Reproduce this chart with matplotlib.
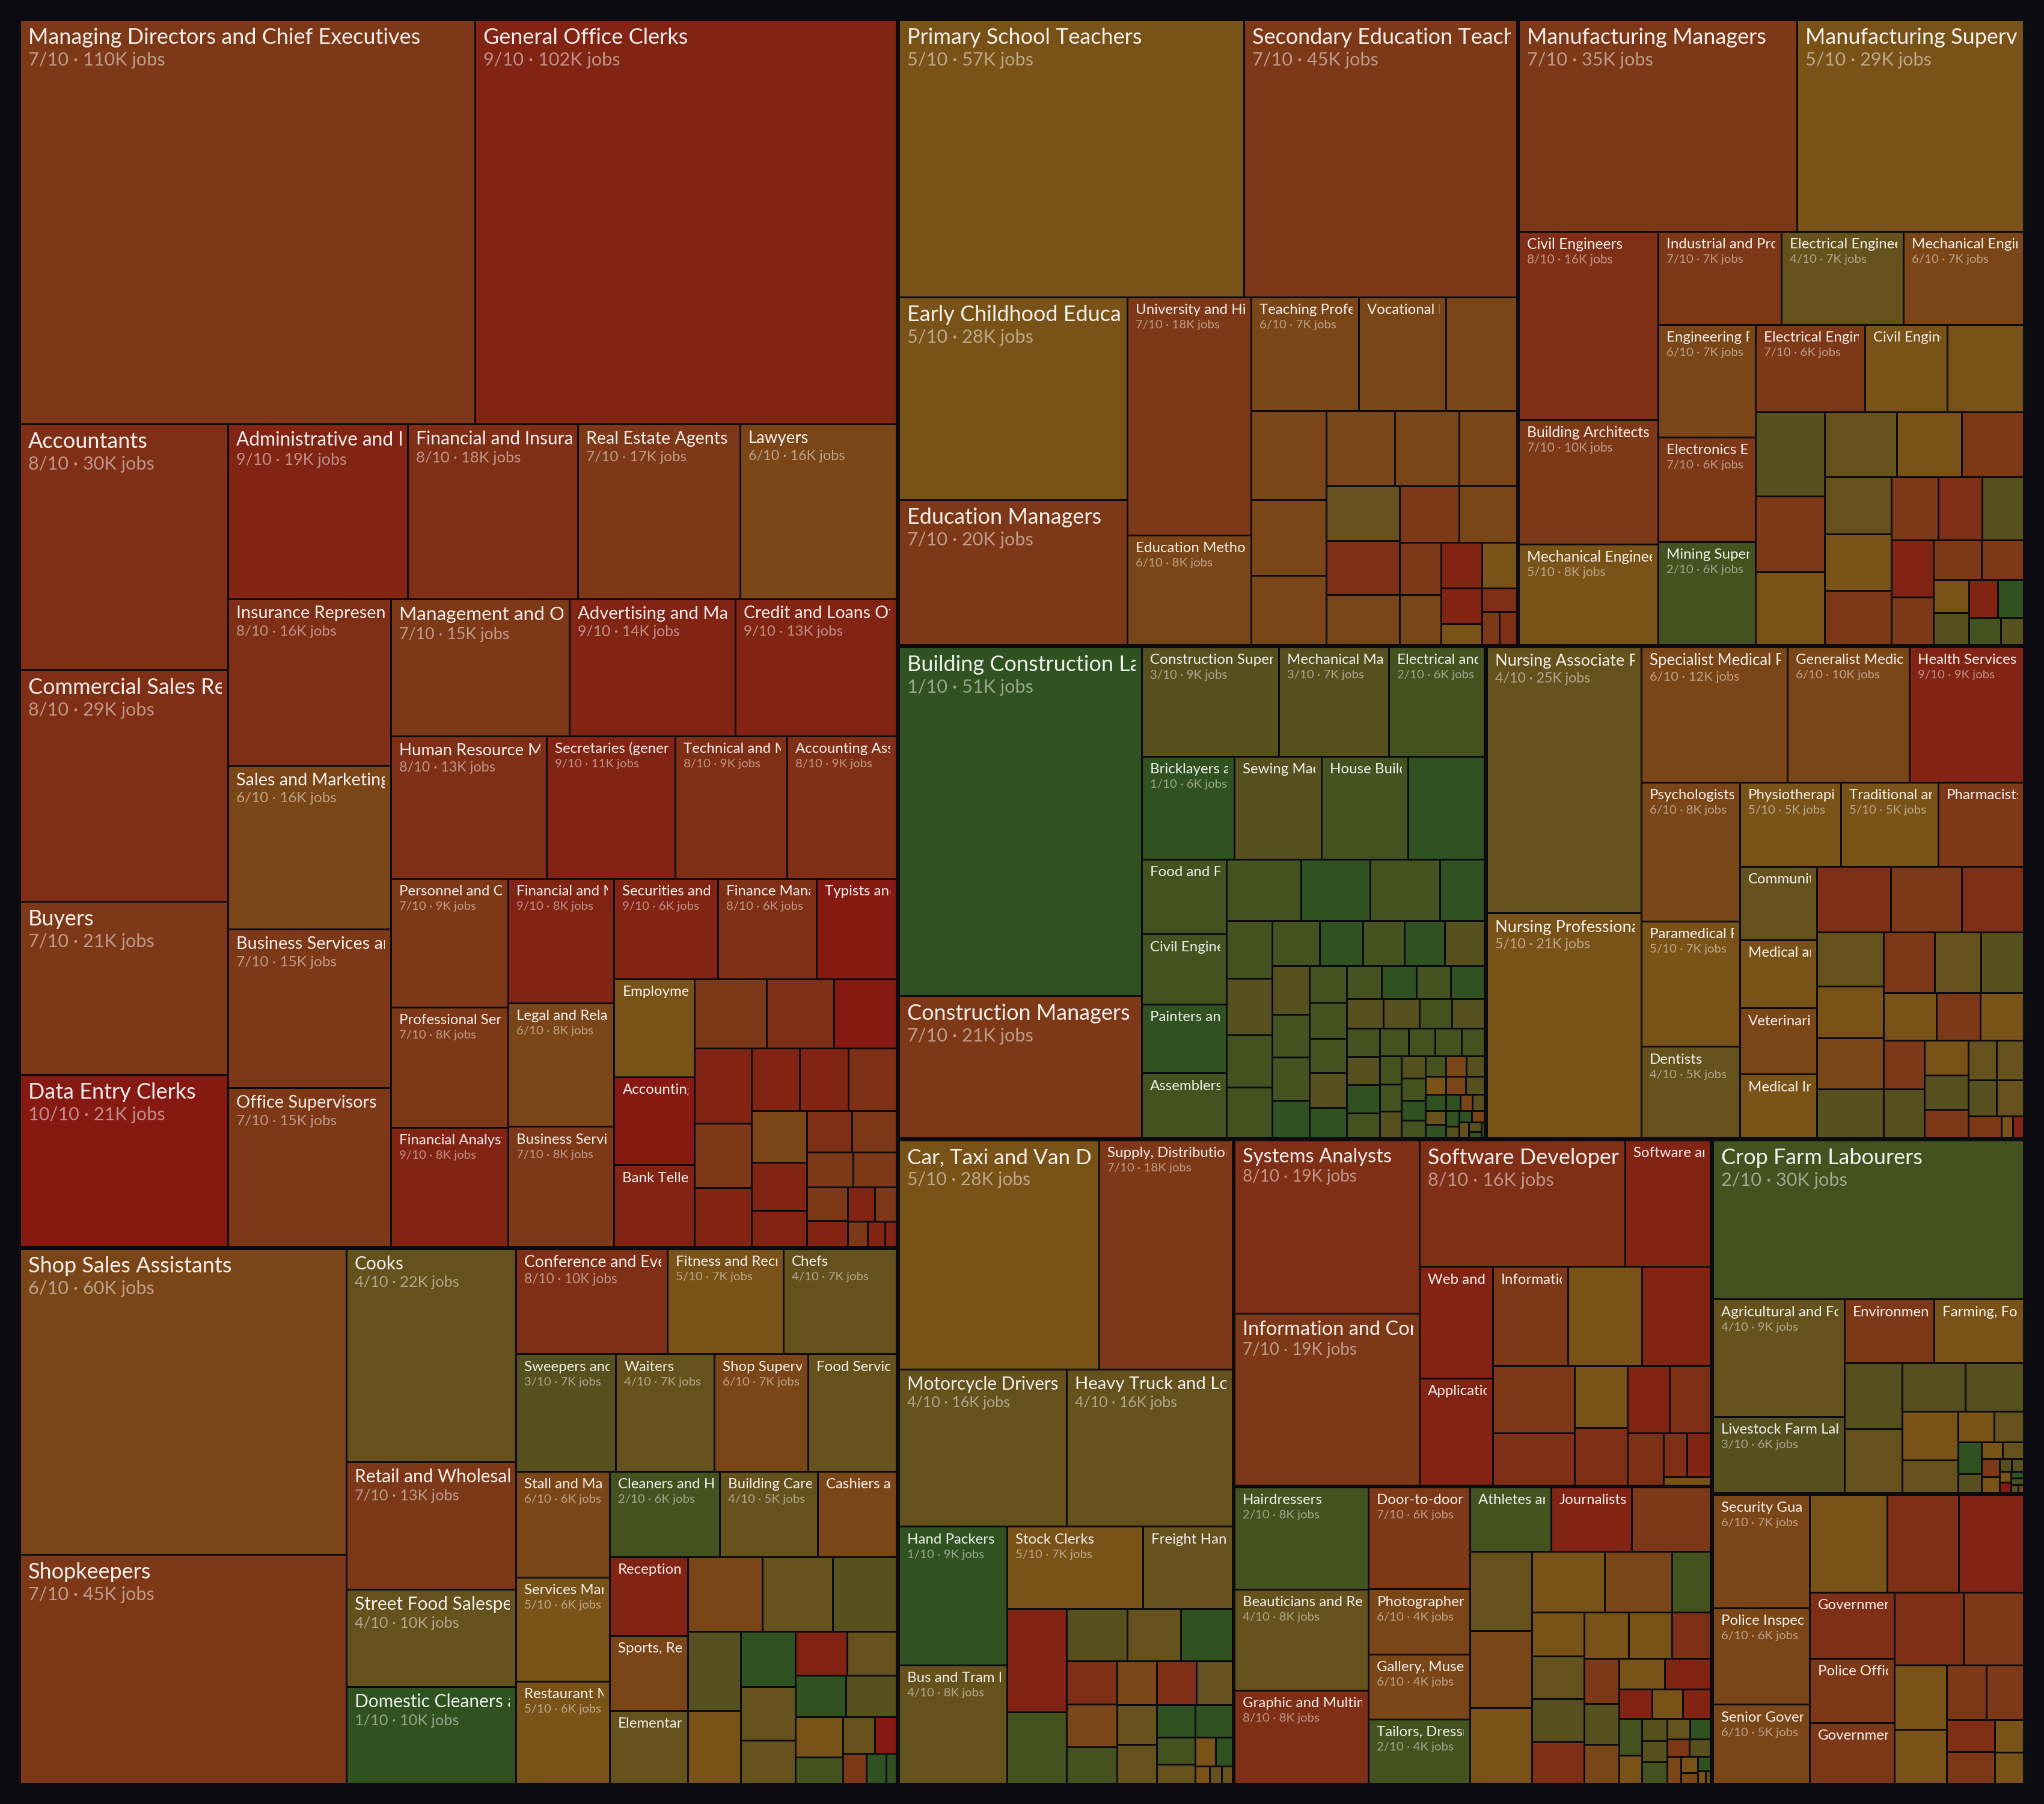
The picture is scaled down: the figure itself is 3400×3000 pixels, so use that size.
import matplotlib
matplotlib.use("Agg")
import matplotlib.pyplot as plt
from matplotlib.patches import Rectangle
from matplotlib.font_manager import FontProperties

BG = "#0b0b11"
FONT = ["Lato", "DejaVu Sans"]

# ---------------- data (thousand jobs, automation score /10) ----------------
biz_names = ["Managing Directors and Chief Executives", "General Office Clerks", "Accountants",
             "Commercial Sales Representatives", "Buyers", "Data Entry Clerks",
             "Administrative and Executive Secretaries", "Financial and Insurance Services Managers",
             "Real Estate Agents", "Lawyers", "Insurance Representatives", "Sales and Marketing Managers",
             "Business Services and Administration Managers", "Office Supervisors",
             "Management and Organisation Analysts", "Advertising and Marketing Professionals",
             "Credit and Loans Officers", "Human Resource Managers", "Secretaries (general)",
             "Technical and Medical Sales Professionals", "Accounting Associate Professionals",
             "Personnel and Careers Professionals", "Professional Services Managers", "Financial Analysts",
             "Financial and Mathematical Associate Professionals", "Legal and Related Associate Professionals",
             "Business Services Agents", "Securities and Finance Dealers", "Finance Managers",
             "Typists and Word Processing Operators", "Employment Agents and Contractors",
             "Accounting and Bookkeeping Clerks", "Bank Tellers and Related Clerks"]
biz_jobs = [109.5, 101.5, 30.4, 28.7, 21.4, 21.3, 18.7, 17.7, 16.9, 16.3, 16.2, 15.9, 15.45, 15.4, 14.6,
            13.6, 13.2, 13.2, 10.9, 9.45, 9.3, 9.0, 8.4, 8.3, 7.9, 7.8, 7.6, 6.2, 5.9, 4.8, 4.7, 4.2, 3.9]
biz_score = [7, 9, 8, 8, 7, 10, 9, 8, 7, 6, 8, 6, 7, 7, 7, 9, 9, 8, 9, 8, 8, 7, 7, 9, 9, 6, 7, 9, 8, 10, 5, 10, 9]
biz_other_jobs = [3.0, 2.8, 2.6, 2.55, 2.2, 2.0, 1.8, 1.8, 1.8, 1.7, 1.6, 1.2, 1.1, 1.1, 0.96, 0.9, 0.82,
                  0.62, 0.55, 0.45, 0.3, 0.26, 0.17]
biz_other_score = [7, 8, 10, 9, 7, 9, 9, 9, 8, 6, 9, 9, 8, 7, 7, 7, 7, 9, 9, 7, 7, 9, 9]

sales_names = ["Shop Sales Assistants", "Shopkeepers", "Cooks", "Retail and Wholesale Trade Managers",
               "Street Food Salespersons", "Domestic Cleaners and Helpers", "Conference and Event Planners",
               "Fitness and Recreation Instructors", "Chefs", "Sweepers and Related Labourers", "Waiters",
               "Shop Supervisors", "Food Service Counter Attendants", "Stall and Market Salespersons",
               "Services Managers", "Restaurant Managers", "Cleaners and Helpers in Offices",
               "Building Caretakers", "Cashiers and Ticket Clerks", "Receptionists",
               "Sports, Recreation and Cultural Centre Managers", "Elementary Food Preparation Workers"]
sales_jobs = [59.6, 44.6, 21.6, 12.9, 9.9, 9.8, 9.5, 7.3, 7.1, 7.0, 6.9, 6.6, 6.2, 5.9, 5.8, 5.7, 5.6,
              5.0, 4.0, 3.7, 3.5, 3.4]
sales_score = [6, 7, 4, 7, 4, 1, 8, 5, 4, 3, 4, 6, 4, 6, 5, 5, 2, 4, 6, 9, 6, 4]
sales_other_jobs = [3.35, 3.15, 2.85, 2.5, 2.3, 1.8, 1.75, 1.4, 1.35, 1.3, 1.25, 1.25, 1.15, 0.75, 0.7,
                    0.47, 0.42, 0.35, 0.19]
sales_other_score = [6, 4, 3, 3, 5, 1, 4, 4, 9, 4, 1, 3, 5, 2, 4, 10, 7, 1, 1]

edu_names = ["Primary School Teachers", "Secondary Education Teachers", "Early Childhood Educators",
             "Education Managers", "University and Higher Education Teachers", "Education Methods Specialists",
             "Teaching Professionals (other)", "Vocational Education Teachers"]
edu_jobs = [57.1, 45.2, 27.7, 19.8, 17.6, 8.1, 7.3, 5.9]
edu_score = [5, 7, 5, 7, 7, 6, 6, 6]
edu_other_jobs = [4.8, 4.0, 3.4, 3.1, 3.1, 2.9, 2.6, 2.4, 2.4, 2.2, 2.0, 1.95, 1.3, 1.24, 1.1, 0.94, 0.86,
                  0.52, 0.49, 0.35, 0.34]
edu_other_score = [6, 6, 6, 6, 6, 6, 6, 4, 8, 6, 7, 6, 7, 6, 9, 5, 9, 5, 8, 7, 8]

eng_names = ["Manufacturing Managers", "Manufacturing Supervisors", "Civil Engineers", "Building Architects",
             "Mechanical Engineering Technicians", "Industrial and Production Engineers",
             "Electrical Engineers", "Mechanical Engineers", "Engineering Professionals",
             "Electronics Engineers", "Mining Supervisors", "Electrical Engineering Technicians",
             "Civil Engineering Technicians"]
eng_jobs = [35.2, 28.6, 15.7, 10.4, 8.4, 6.85, 6.8, 6.7, 6.55, 6.1, 6.0, 5.7, 4.3]
eng_score = [7, 5, 8, 7, 5, 7, 4, 6, 6, 7, 2, 7, 5]
eng_other_jobs = [4.0, 3.45, 3.1, 3.0, 2.8, 2.5, 2.4, 2.3, 2.25, 2.18, 1.76, 1.66, 1.55, 1.45, 1.2, 1.14, 1.0,
                  0.7, 0.67, 0.66, 0.58, 0.52, 0.37]
eng_other_score = [5, 3, 7, 5, 4, 5, 7, 4, 5, 7, 7, 8, 3, 9, 7, 7, 7, 5, 3, 9, 1, 2, 3]

con_names = ["Building Construction Labourers", "Construction Managers", "Construction Supervisors",
             "Mechanical Machinery Assemblers", "Electrical and Electronics Installers",
             "Bricklayers and Related Workers", "Sewing Machine Operators", "House Builders",
             "Food and Fibre Processing Workers", "Civil Engineering Labourers",
             "Painters and Related Workers", "Assemblers"]
con_jobs = [50.7, 20.6, 9.0, 7.2, 6.3, 5.7, 5.35, 5.3, 3.8, 3.55, 3.5, 3.3]
con_score = [1, 7, 3, 3, 2, 1, 3, 2, 2, 2, 1, 2]
con_other_jobs = [4.7, 2.75, 2.55, 2.55, 1.65, 1.6, 1.55, 1.45, 1.4, 1.28, 1.18, 1.12, 1.09, 1.08, 1.07,
                  0.94, 0.94, 0.83, 0.82, 0.82, 0.78, 0.78, 0.69, 0.69, 0.69, 0.68, 0.67, 0.64, 0.63,
                  0.57, 0.57, 0.55, 0.55, 0.54, 0.49, 0.48, 0.44, 0.44, 0.38, 0.37, 0.36, 0.35, 0.32,
                  0.31, 0.29, 0.25, 0.25, 0.25, 0.22, 0.22, 0.21, 0.2, 0.2, 0.17, 0.17, 0.14, 0.12,
                  0.12, 0.12, 0.09, 0.09, 0.09, 0.09, 0.07, 0.05, 0.03]
con_other_score = [1, 2, 1, 2, 1, 2, 3, 2, 2, 2, 1, 2, 1, 3, 3,
                   2, 2, 1, 2, 2, 2, 3, 1, 2, 1, 2, 1, 3, 3, 2,
                   3, 2, 3, 1, 2, 2, 2, 2, 2, 2, 2, 3, 3, 2,
                   1, 2, 2, 6, 3, 5, 6, 3, 1, 4, 1, 1, 6, 3,
                   1, 3, 1, 6, 4, 3, 1, 2]

health_names = ["Nursing Associate Professionals", "Nursing Professionals", "Specialist Medical Practitioners",
                "Generalist Medical Practitioners", "Health Services Managers", "Psychologists",
                "Paramedical Practitioners", "Dentists", "Physiotherapists",
                "Traditional and Complementary Medicine Practitioners", "Pharmacists",
                "Community Health Workers", "Medical and Pharmaceutical Technicians", "Veterinarians",
                "Medical Imaging Technicians"]
health_jobs = [24.6, 20.8, 11.8, 9.9, 9.2, 8.2, 7.4, 5.4, 5.1, 4.9, 4.3, 3.4, 3.15, 3.05, 2.95]
health_score = [4, 5, 6, 6, 9, 6, 5, 4, 5, 5, 7, 4, 5, 6, 5]
health_other_jobs = [2.9, 2.8, 2.45, 2.15, 2.05, 2.05, 1.95, 1.84, 1.68, 1.55, 1.49, 1.23, 1.22, 1.19, 1.18,
                     0.92, 0.91, 0.76, 0.67, 0.64, 0.61, 0.58, 0.43, 0.15, 0.14]
health_other_score = [8, 7, 8, 4, 5, 6, 3, 7, 4, 3, 5, 7, 5, 7, 3, 5, 3, 7, 4, 4, 3, 4, 7, 5, 9]

trans_names = ["Car, Taxi and Van Drivers", "Supply, Distribution and Related Managers", "Motorcycle Drivers",
               "Heavy Truck and Lorry Drivers", "Hand Packers", "Bus and Tram Drivers", "Stock Clerks",
               "Freight Handlers"]
trans_jobs = [27.5, 18.3, 15.8, 15.6, 9.0, 7.7, 6.7, 4.4]
trans_score = [5, 7, 4, 4, 1, 4, 5, 4]
trans_other_jobs = [3.7, 2.55, 1.88, 1.68, 1.6, 1.3, 1.28, 1.1, 1.06, 1.05, 0.95, 0.94, 0.93, 0.75, 0.72,
                    0.62, 0.44, 0.35, 0.29, 0.15, 0.13, 0.11]
trans_other_score = [9, 2, 3, 4, 1, 8, 6, 2, 6, 8, 4, 4, 4, 1, 1, 2, 4, 5, 1, 5, 4, 4]

ict_names = ["Systems Analysts", "Information and Communications Technology Managers", "Software Developers",
             "Software and Applications Developers", "Web and Multimedia Developers",
             "Applications Programmers", "Information and Communications Technicians"]
ict_jobs = [19.2, 19.1, 15.6, 6.5, 4.9, 4.7, 4.45]
ict_score = [8, 7, 8, 9, 9, 9, 7]
ict_other_jobs = [4.4, 4.1, 3.3, 2.55, 1.96, 1.82, 1.69, 1.66, 1.14, 0.62, 0.62, 0.23]
ict_other_score = [5, 9, 7, 8, 5, 8, 9, 8, 8, 8, 9, 5]

agri_names = ["Crop Farm Labourers", "Agricultural and Forestry Production Managers",
              "Livestock Farm Labourers", "Environmental Protection Professionals",
              "Farming, Forestry and Fisheries Advisers"]
agri_jobs = [29.7, 9.3, 6.0, 3.42, 3.4]
agri_score = [2, 4, 3, 7, 5]
agri_other_jobs = [2.3, 2.2, 1.85, 1.7, 1.63, 1.1, 0.68, 0.54, 0.45, 0.26, 0.22, 0.21, 0.2, 0.17, 0.09,
                   0.09, 0.07, 0.07, 0.05, 0.05, 0.035, 0.025]
agri_other_score = [3, 4, 3, 3, 5, 4, 5, 4, 1, 3, 5, 4, 7, 5, 3, 3, 5, 10, 1, 2, 3, 6]

pers_names = ["Hairdressers", "Beauticians and Related Workers", "Graphic and Multimedia Designers",
              "Door-to-door Salespersons", "Photographers", "Gallery, Museum and Library Technicians",
              "Tailors, Dressmakers and Hatters", "Athletes and Sports Players", "Journalists"]
pers_jobs = [8.2, 8.15, 7.5, 6.2, 3.98, 3.95, 3.92, 3.12, 3.1]
pers_score = [2, 4, 8, 7, 6, 6, 2, 2, 9]
pers_other_jobs = [3.05, 2.95, 2.85, 2.82, 2.65, 2.48, 1.41, 1.36, 1.33, 1.33, 1.31, 1.25, 1.19, 1.08, 0.95,
                   0.87, 0.83, 0.83, 0.83, 0.59, 0.54, 0.5, 0.5, 0.38, 0.33, 0.32, 0.32, 0.28, 0.25, 0.24,
                   0.23, 0.22, 0.16, 0.11, 0.11, 0.06, 0.04]
pers_other_score = [7, 4, 6, 5, 5, 6, 2, 5, 4, 3, 8, 5, 5, 8, 7, 3, 6, 5, 9, 9, 5, 9, 2, 5, 3, 3, 2, 4, 1,
                    7, 3, 6, 5, 6, 1, 5, 4]

gov_names = ["Security Guards", "Police Inspectors and Detectives", "Senior Government Officials",
             "Government Tax and Excise Officials", "Police Officers", "Government Social Benefits Officials"]
gov_jobs = [6.6, 5.6, 4.6, 3.4, 3.3, 3.1]
gov_score = [6, 6, 6, 8, 7, 7]
gov_other_jobs = [4.55, 4.2, 3.8, 3.05, 2.63, 2.02, 1.7, 1.29, 1.21, 0.93, 0.91, 0.56, 0.54]
gov_other_score = [5, 8, 9, 8, 7, 5, 5, 7, 7, 8, 7, 5, 5]

sectors = [
    (biz_names, biz_jobs, biz_score, biz_other_jobs, biz_other_score),
    (sales_names, sales_jobs, sales_score, sales_other_jobs, sales_other_score),
    (edu_names, edu_jobs, edu_score, edu_other_jobs, edu_other_score),
    (eng_names, eng_jobs, eng_score, eng_other_jobs, eng_other_score),
    (con_names, con_jobs, con_score, con_other_jobs, con_other_score),
    (health_names, health_jobs, health_score, health_other_jobs, health_other_score),
    (trans_names, trans_jobs, trans_score, trans_other_jobs, trans_other_score),
    (ict_names, ict_jobs, ict_score, ict_other_jobs, ict_other_score),
    (agri_names, agri_jobs, agri_score, agri_other_jobs, agri_other_score),
    (pers_names, pers_jobs, pers_score, pers_other_jobs, pers_other_score),
    (gov_names, gov_jobs, gov_score, gov_other_jobs, gov_other_score),
]

SCORE_COLORS = {1: "#2f5220", 2: "#44521f", 3: "#55501e", 4: "#65511c", 5: "#795217",
                6: "#7b4617", 7: "#7d3917", 8: "#7f2f16", 9: "#812414", 10: "#861a13"}


# ---------------- squarified treemap (d3-style, ratio 1) ----------------
def squarify(values, x0, y0, x1, y1, ratio=1.0):
    n = len(values)
    rects = [None] * n
    value = float(sum(values))
    i0 = i1 = 0
    while i0 < n:
        dx, dy = x1 - x0, y1 - y0
        s = values[i1]
        i1 += 1
        mn = mx = s
        alpha = max(dy / dx, dx / dy) / (value * ratio)
        beta = s * s * alpha
        best = max(mx / beta, beta / mn)
        while i1 < n:
            v = values[i1]
            s2 = s + v
            mn2, mx2 = min(mn, v), max(mx, v)
            beta = s2 * s2 * alpha
            r = max(mx2 / beta, beta / mn2)
            if r > best:
                break
            s, mn, mx, best = s2, mn2, mx2, r
            i1 += 1
        if dx < dy:
            h = dy * s / value if i1 < n else dy
            xx = x0
            for k in range(i0, i1):
                w = dx * values[k] / s
                rects[k] = (xx, y0, xx + w, y0 + h)
                xx += w
            y0 += h
        else:
            w = dx * s / value if i1 < n else dx
            yy = y0
            for k in range(i0, i1):
                h = dy * values[k] / s
                rects[k] = (x0, yy, x0 + w, yy + h)
                yy += h
            x0 += w
        value -= s
        i0 = i1
    return rects


W, H = 3400, 3000
X0, Y0, X1, Y1 = 32, 32, 3368, 2968
GPAD = 1.75
LP = 1.5

fig = plt.figure(figsize=(W / 100, H / 100), dpi=100, facecolor=BG)
ax = fig.add_axes([0, 0, 1, 1])
ax.set_xlim(0, W)
ax.set_ylim(H, 0)
ax.axis("off")
ax.set_facecolor(BG)
renderer = fig.canvas.get_renderer()


def text_w(s, prop):
    return renderer.get_text_width_height_descent(s, prop, ismath=False)[0]


def fit(s, prop, avail):
    """Keep the characters that start inside the available width (last one gets clipped)."""
    if text_w(s, prop) <= avail:
        return s
    lo, hi = 1, len(s)
    while lo < hi:
        mid = (lo + hi) // 2
        if text_w(s[:mid], prop) > avail:
            hi = mid
        else:
            lo = mid + 1
    return s[:lo]


totals = [sum(s[1]) + sum(s[3]) for s in sectors]
order = sorted(range(len(sectors)), key=lambda i: -totals[i])
grects = squarify([totals[i] for i in order], X0, Y0, X1, Y1)

for gi, gr in zip(order, grects):
    names, jobs, score, ojobs, oscore = sectors[gi]
    leaves = [(v, sc, nm) for nm, v, sc in zip(names, jobs, score)]
    leaves += [(v, sc, "") for v, sc in zip(ojobs, oscore)]
    leaves.sort(key=lambda t: -t[0])
    lrects = squarify([t[0] for t in leaves], gr[0] + GPAD, gr[1] + GPAD, gr[2] - GPAD, gr[3] - GPAD)
    for (v, sc, nm), (x0, y0, x1, y1) in zip(leaves, lrects):
        w, h = x1 - x0, y1 - y0
        ax.add_patch(Rectangle((x0 + LP, y0 + LP), max(w - 2 * LP, 0.1), max(h - 2 * LP, 0.1),
                               facecolor=SCORE_COLORS[sc], edgecolor="none", lw=0))
        if nm and w >= 112 and h >= 60:
            fs = min(36.0, max(24.0, 0.106 * w))
            tx = x0 + LP + 12
            by = y0 + LP + 9 + (fs - 24) * 0.25 + 0.72 * fs
            right = x1 - LP - 9
            clip = Rectangle((x0 + LP, y0 + LP), right - (x0 + LP), h - 2 * LP, transform=ax.transData)
            p1 = FontProperties(family=FONT, size=fs * 0.72)
            t = ax.text(tx, by, fit(nm, p1, right - tx), fontproperties=p1, color=(1, 1, 1, 0.92),
                        ha="left", va="baseline", clip_on=True)
            t.set_clip_path(clip)
            if w >= 151 and h >= 100:
                p2 = FontProperties(family=FONT, size=fs * 0.85 * 0.72)
                sub = f"{sc}/10 \u00b7 {v:.0f}K jobs"
                t2 = ax.text(tx, by + 1.0 * fs, fit(sub, p2, right - tx), fontproperties=p2,
                             color=(1, 1, 1, 0.5), ha="left", va="baseline", clip_on=True)
                t2.set_clip_path(clip)

fig.savefig("out.png", dpi=100, facecolor=BG)
